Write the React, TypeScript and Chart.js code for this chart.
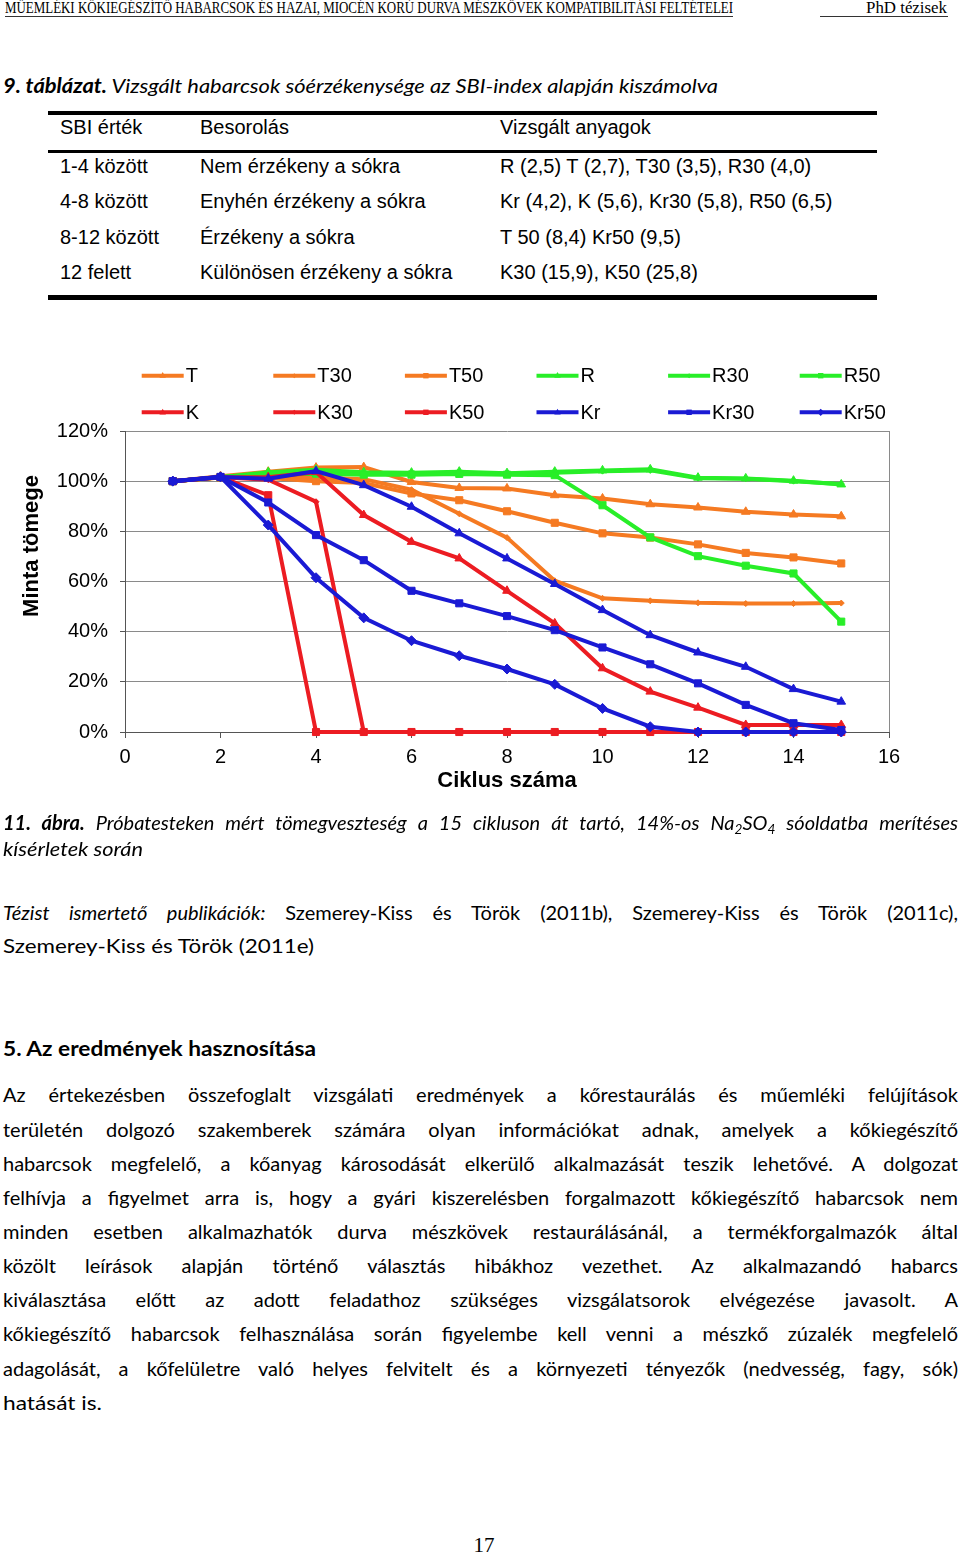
import React, { useEffect, useLayoutEffect, useRef } from 'react';
import { Chart, registerables } from 'chart.js';

Chart.register(...registerables);

// ---------------- DATA ----------------
const cycles = [1, 2, 3, 4, 5, 6, 7, 8, 9, 10, 11, 12, 13, 14, 15];
const seriesNames = ['T', 'T30', 'T50', 'R', 'R30', 'R50', 'K', 'K30', 'K50', 'Kr', 'Kr30', 'Kr50'];

const T = [100, 102.0, 103.8, 105.4, 105.6, 99.7, 97.3, 97.1, 94.4, 93.1, 90.8, 89.5, 87.8, 86.7, 86.0];
const T30 = [100, 101.5, 101.5, 101.5, 100.8, 96.6, 87.0, 77.5, 60.3, 53.3, 52.3, 51.5, 51.2, 51.2, 51.4];
const T50 = [100, 101.5, 101.3, 100.0, 99.3, 95.1, 92.4, 88.0, 83.4, 79.2, 77.5, 74.8, 71.4, 69.6, 67.2];
const R = [100, 101.6, 103.6, 104.6, 103.6, 103.4, 103.8, 103.2, 103.8, 104.3, 104.7, 101.4, 101.1, 100.2, 98.7];
const R30 = [100, 101.6, 103.2, 104.2, 103.2, 103.0, 103.4, 103.0, 103.4, 104.0, 104.3, 101.2, 101.0, 100.0, 98.9];
const R50 = [100, 101.6, 102.6, 103.0, 102.6, 102.6, 102.9, 102.6, 102.4, 90.4, 77.6, 70.1, 66.3, 63.2, 44.0];
const K = [100, 101.6, 101.6, 103.6, 86.5, 75.8, 69.2, 56.3, 43.3, 25.4, 16.1, 9.7, 2.8, 2.8, 2.8];
const K30 = [100, 101.6, 100.6, 91.8, 0, 0, 0, 0, 0, 0, 0, 0, 0, 0, 0];
const K50 = [100, 101.6, 94.4, 0, 0, 0, 0, 0, 0, 0, 0, 0, 0, 0, 0];
const Kr = [100, 101.7, 101.0, 104.0, 98.4, 89.8, 79.2, 69.2, 59.0, 48.6, 38.6, 31.7, 26.0, 17.1, 12.1];
const Kr30 = [100, 101.7, 91.5, 78.5, 68.5, 56.3, 51.3, 46.2, 40.6, 33.7, 27.0, 19.4, 10.8, 3.5, 0.8];
const Kr50 = [100, 101.7, 82.5, 61.5, 45.5, 36.4, 30.4, 25.1, 19.0, 9.4, 2.1, 0, 0, 0, 0];

const seriesValues = [T, T30, T50, R, R30, R50, K, K30, K50, Kr, Kr30, Kr50];

const xTickStep = 2;
const xMin = 0;
const xMax = 16;
const yMin = 0;
const yMax = 120;
const yTickStep = 20;

const yTitle = 'Minta tömege';
const xTitle = 'Ciklus száma';

// ---------------- STYLE ----------------
const ORANGE = '#F57A22';
const GREEN = '#28EE28';
const RED = '#EC1C22';
const BLUE = '#1A1AD4';
const seriesColor = [ORANGE, ORANGE, ORANGE, GREEN, GREEN, GREEN, RED, RED, RED, BLUE, BLUE, BLUE];
const seriesMarker = ['triangle', 'rectRot', 'rect', 'triangle', 'rectRot', 'rect', 'triangle', 'rectRot', 'rect', 'triangle', 'rect', 'rectRot'];
const seriesRadius = [5, 3, 5, 5, 3, 5, 5, 3, 5, 5, 5, 5];

const FONT_SANS = '"Liberation Sans", Arial, sans-serif';
const FONT_BODY = 'Lato, "Open Sans", sans-serif';
const FONT_SERIF = '"Liberation Serif", "Times New Roman", serif';

function drawMarker(ctx: CanvasRenderingContext2D, style: string, x: number, y: number, r: number, color: string) {
  ctx.fillStyle = color;
  ctx.beginPath();
  if (style === 'triangle') {
    ctx.moveTo(x, y - r);
    ctx.lineTo(x + r * 0.9, y + r * 0.6);
    ctx.lineTo(x - r * 0.9, y + r * 0.6);
  } else if (style === 'rect') {
    ctx.rect(x - r * 0.75, y - r * 0.75, r * 1.5, r * 1.5);
  } else {
    ctx.moveTo(x, y - r);
    ctx.lineTo(x + r, y);
    ctx.lineTo(x, y + r);
    ctx.lineTo(x - r, y);
  }
  ctx.closePath();
  ctx.fill();
}

const decorPlugin = {
  id: 'decor',
  afterDraw(chart: any) {
    const ctx: CanvasRenderingContext2D = chart.ctx;
    ctx.save();
    // grid legend: 2 rows x 6 columns
    ctx.font = '20px ' + FONT_SANS;
    ctx.textBaseline = 'middle';
    ctx.textAlign = 'left';
    chart.data.datasets.forEach((ds: any, i: number) => {
      const row = Math.floor(i / 6);
      const col = i % 6;
      const x0 = 141.7 + col * 131.6;
      const y = 35.7 + row * 36.6;
      ctx.strokeStyle = seriesColor[i];
      ctx.lineWidth = 4;
      ctx.beginPath();
      ctx.moveTo(x0, y);
      ctx.lineTo(x0 + 42, y);
      ctx.stroke();
      const small = seriesRadius[i] < 4 ? 2.5 : 3.6;
      drawMarker(ctx, seriesMarker[i], x0 + 21, y, small, seriesColor[i]);
      ctx.fillStyle = '#000';
      ctx.fillText(ds.label, x0 + 44, y + 1);
    });
    // y axis title
    ctx.translate(32, 206);
    ctx.rotate(-Math.PI / 2);
    ctx.font = 'bold 22px ' + FONT_SANS;
    ctx.textAlign = 'center';
    ctx.fillStyle = '#000';
    ctx.fillText(yTitle, 0, 0);
    ctx.restore();
  },
};

function ChartBox() {
  const ref = useRef<HTMLCanvasElement>(null);
  useEffect(() => {
    if (!ref.current) return;
    Chart.defaults.font.family = FONT_SANS;
    const chart = new Chart(ref.current, {
      type: 'line',
      data: {
        datasets: seriesNames.map((name, i) => ({
          label: name,
          data: cycles.map((c, j) => ({ x: c, y: seriesValues[i][j] })),
          borderColor: seriesColor[i],
          backgroundColor: seriesColor[i],
          borderWidth: 4,
          pointStyle: seriesMarker[i] as any,
          pointRadius: seriesRadius[i],
          pointBorderWidth: 1,
          pointBorderColor: seriesColor[i],
          pointBackgroundColor: seriesColor[i],
          tension: 0,
          fill: false,
          clip: false as any,
          order: 12 - i,
        })),
      },
      options: {
        animation: false,
        responsive: false,
        events: [],
        layout: { padding: { top: 91, right: 71, left: 0, bottom: 0 } },
        plugins: { legend: { display: false }, tooltip: { enabled: false }, title: { display: false } },
        scales: {
          x: {
            type: 'linear',
            min: xMin,
            max: xMax,
            ticks: { stepSize: xTickStep, font: { size: 20 }, color: '#000', padding: 7, maxRotation: 0 },
            grid: {
              color: (c: any) => (c.tick && c.tick.value === xMax ? '#8a8a8a' : 'rgba(0,0,0,0)'),
              tickColor: '#555',
              tickLength: 6,
            },
            border: { color: '#555', width: 1 },
            title: { display: true, text: xTitle, font: { size: 22, weight: 'bold' }, color: '#000', padding: { top: 0, bottom: 16 } },
            afterFit: (s: any) => {
              s.height = 78;
              s.paddingLeft = 0;
              s.paddingRight = 0;
            },
          },
          y: {
            min: yMin,
            max: yMax,
            ticks: { stepSize: yTickStep, font: { size: 20 }, color: '#000', padding: 12, callback: (v: any) => v + '%' },
            grid: { color: '#8a8a8a', tickColor: '#555', tickLength: 5 },
            border: { color: '#555', width: 1 },
            afterFit: (s: any) => {
              s.width = 125;
              s.paddingTop = 0;
              s.paddingBottom = 0;
            },
          },
        },
      } as any,
      plugins: [decorPlugin],
    });
    return () => chart.destroy();
  }, []);
  return (
    <canvas
      ref={ref}
      width={960}
      height={470}
      style={{ position: 'absolute', left: 0, top: 340, width: 960, height: 470 }}
    />
  );
}

type LineProps = {
  x: number;
  y: number;
  w?: number;
  mode?: 'fit' | 'justify' | 'left';
  font: string;
  children: React.ReactNode;
};

function Line({ x, y, w, mode = 'left', font, children }: LineProps) {
  const outer = useRef<HTMLDivElement>(null);
  const inner = useRef<HTMLSpanElement>(null);
  useLayoutEffect(() => {
    const apply = () => {
      const o = outer.current;
      const s = inner.current;
      if (!o || !s || !w) return;
      o.style.whiteSpace = 'nowrap';
      o.style.textAlign = 'left';
      o.style.textAlignLast = 'auto';
      s.style.display = 'inline';
      s.style.transform = '';
      const natural = s.getBoundingClientRect().width;
      if (!natural) return;
      if (mode === 'fit' || (mode === 'justify' && natural > w)) {
        s.style.display = 'inline-block';
        s.style.transformOrigin = 'left center';
        s.style.transform = `scaleX(${w / natural})`;
      } else if (mode === 'justify') {
        o.style.whiteSpace = 'normal';
        o.style.textAlign = 'justify';
        o.style.textAlignLast = 'justify';
      }
    };
    apply();
    if ((document as any).fonts && (document as any).fonts.ready) {
      (document as any).fonts.ready.then(apply);
    }
  }, []);
  return (
    <div
      ref={outer}
      style={{
        font,
        position: 'absolute',
        left: x,
        top: y - 13,
        width: w ?? 'auto',
        height: 26,
        lineHeight: '26px',
        whiteSpace: 'nowrap',
        color: '#000',
      }}
    >
      <span ref={inner}>{children}</span>
    </div>
  );
}

const Sub = ({ children }: { children: React.ReactNode }) => (
  <span style={{ fontSize: '0.68em', verticalAlign: '-0.28em', lineHeight: 0 }}>{children}</span>
);

const bodyFont = '20px ' + FONT_BODY;
const bodyItalic = 'italic 20px ' + FONT_BODY;
const tableFont = '20px ' + FONT_SANS;

const paragraph = [
  'Az értekezésben összefoglalt vizsgálati eredmények a kőrestaurálás és műemléki felújítások',
  'területén dolgozó szakemberek számára olyan információkat adnak, amelyek a kőkiegészítő',
  'habarcsok megfelelő, a kőanyag károsodását elkerülő alkalmazását teszik lehetővé. A dolgozat',
  'felhívja a figyelmet arra is, hogy a gyári kiszerelésben forgalmazott kőkiegészítő habarcsok nem',
  'minden esetben alkalmazhatók durva mészkövek restaurálásánál, a termékforgalmazók által',
  'közölt leírások alapján történő választás hibákhoz vezethet. Az alkalmazandó habarcs',
  'kiválasztása előtt az adott feladathoz szükséges vizsgálatsorok elvégezése javasolt. A',
  'kőkiegészítő habarcsok felhasználása során figyelembe kell venni a mészkő zúzalék megfelelő',
  'adagolását, a kőfelületre való helyes felvitelt és a környezeti tényezők (nedvesség, fagy, sók)',
];
const paragraphY = [1094, 1129, 1163, 1197, 1231, 1265, 1299, 1333, 1368];

const tableHeader = ['SBI érték', 'Besorolás', 'Vizsgált anyagok'];
const tableRows = [
  ['1-4 között', 'Nem érzékeny a sókra', 'R (2,5) T (2,7), T30 (3,5), R30 (4,0)'],
  ['4-8 között', 'Enyhén érzékeny a sókra', 'Kr (4,2), K (5,6), Kr30 (5,8), R50 (6,5)'],
  ['8-12 között', 'Érzékeny a sókra', 'T 50 (8,4) Kr50 (9,5)'],
  ['12 felett', 'Különösen érzékeny a sókra', 'K30 (15,9), K50 (25,8)'],
];
const tableColX = [60, 200, 500];
const tableRowY = [166, 201, 237, 272];

export default function App() {
  return (
    <div
      style={{
        position: 'absolute',
        left: 0,
        top: 0,
        width: 960,
        height: 1555,
        background: '#fff',
        overflow: 'hidden',
      }}
    >
      {/* running header */}
      <Line x={5} y={8} w={728} mode="fit" font={'16px ' + FONT_SERIF}>
        MŰEMLÉKI KŐKIEGÉSZÍTŐ HABARCSOK ÉS HAZAI, MIOCÉN KORÚ DURVA MÉSZKÖVEK KOMPATIBILITÁSI FELTÉTELEI
      </Line>
      <Line x={866} y={8} w={81} mode="fit" font={'16px ' + FONT_SERIF}>
        PhD tézisek
      </Line>
      <div style={{ position: 'absolute', left: 5, top: 16, width: 728, height: 1, background: '#333' }} />
      <div style={{ position: 'absolute', left: 820, top: 16, width: 128, height: 1, background: '#333' }} />

      {/* table caption */}
      <Line x={3} y={85} w={715} mode="fit" font={bodyItalic}>
        <b>9. táblázat.</b> Vizsgált habarcsok sóérzékenysége az SBI-index alapján kiszámolva
      </Line>

      {/* table */}
      <div style={{ position: 'absolute', left: 48, top: 111, width: 829, height: 4, background: '#000' }} />
      <div style={{ position: 'absolute', left: 48, top: 150, width: 829, height: 3, background: '#000' }} />
      <div style={{ position: 'absolute', left: 48, top: 295, width: 829, height: 5, background: '#000' }} />
      {tableHeader.map((t, i) => (
        <Line key={'h' + i} x={tableColX[i]} y={127} font={tableFont}>
          {t}
        </Line>
      ))}
      {tableRows.map((row, r) =>
        row.map((t, c) => (
          <Line key={r + '-' + c} x={tableColX[c]} y={tableRowY[r]} font={tableFont}>
            {t}
          </Line>
        ))
      )}

      <ChartBox />

      {/* figure caption */}
      <Line x={3} y={822} w={955} mode="justify" font={bodyItalic}>
        <b>11. ábra.</b> Próbatesteken mért tömegveszteség a 15 cikluson át tartó, 14%-os Na<Sub>2</Sub>SO<Sub>4</Sub>{' '}
        sóoldatba merítéses
      </Line>
      <Line x={3} y={848} w={140} mode="fit" font={bodyItalic}>
        kísérletek során
      </Line>

      <Line x={3} y={912} w={955} mode="justify" font={bodyFont}>
        <i>Tézist ismertető publikációk:</i> Szemerey-Kiss és Török (2011b), Szemerey-Kiss és Török (2011c),
      </Line>
      <Line x={3} y={945} w={311} mode="fit" font={bodyFont}>
        Szemerey-Kiss és Török (2011e)
      </Line>

      <Line x={3} y={1048} w={313} mode="fit" font={'bold 20px ' + FONT_BODY}>
        5. Az eredmények hasznosítása
      </Line>

      {paragraph.map((t, i) => (
        <Line key={'p' + i} x={3} y={paragraphY[i]} w={955} mode="justify" font={bodyFont}>
          {t}
        </Line>
      ))}
      <Line x={3} y={1402} w={99} mode="fit" font={bodyFont}>
        hatását is.
      </Line>

      <div
        style={{
          font: '21px ' + FONT_SERIF,
          position: 'absolute',
          left: 0,
          width: 968,
          top: 1532,
          height: 26,
          lineHeight: '26px',
          textAlign: 'center',
          color: '#000',
        }}
      >
        17
      </div>
    </div>
  );
}
